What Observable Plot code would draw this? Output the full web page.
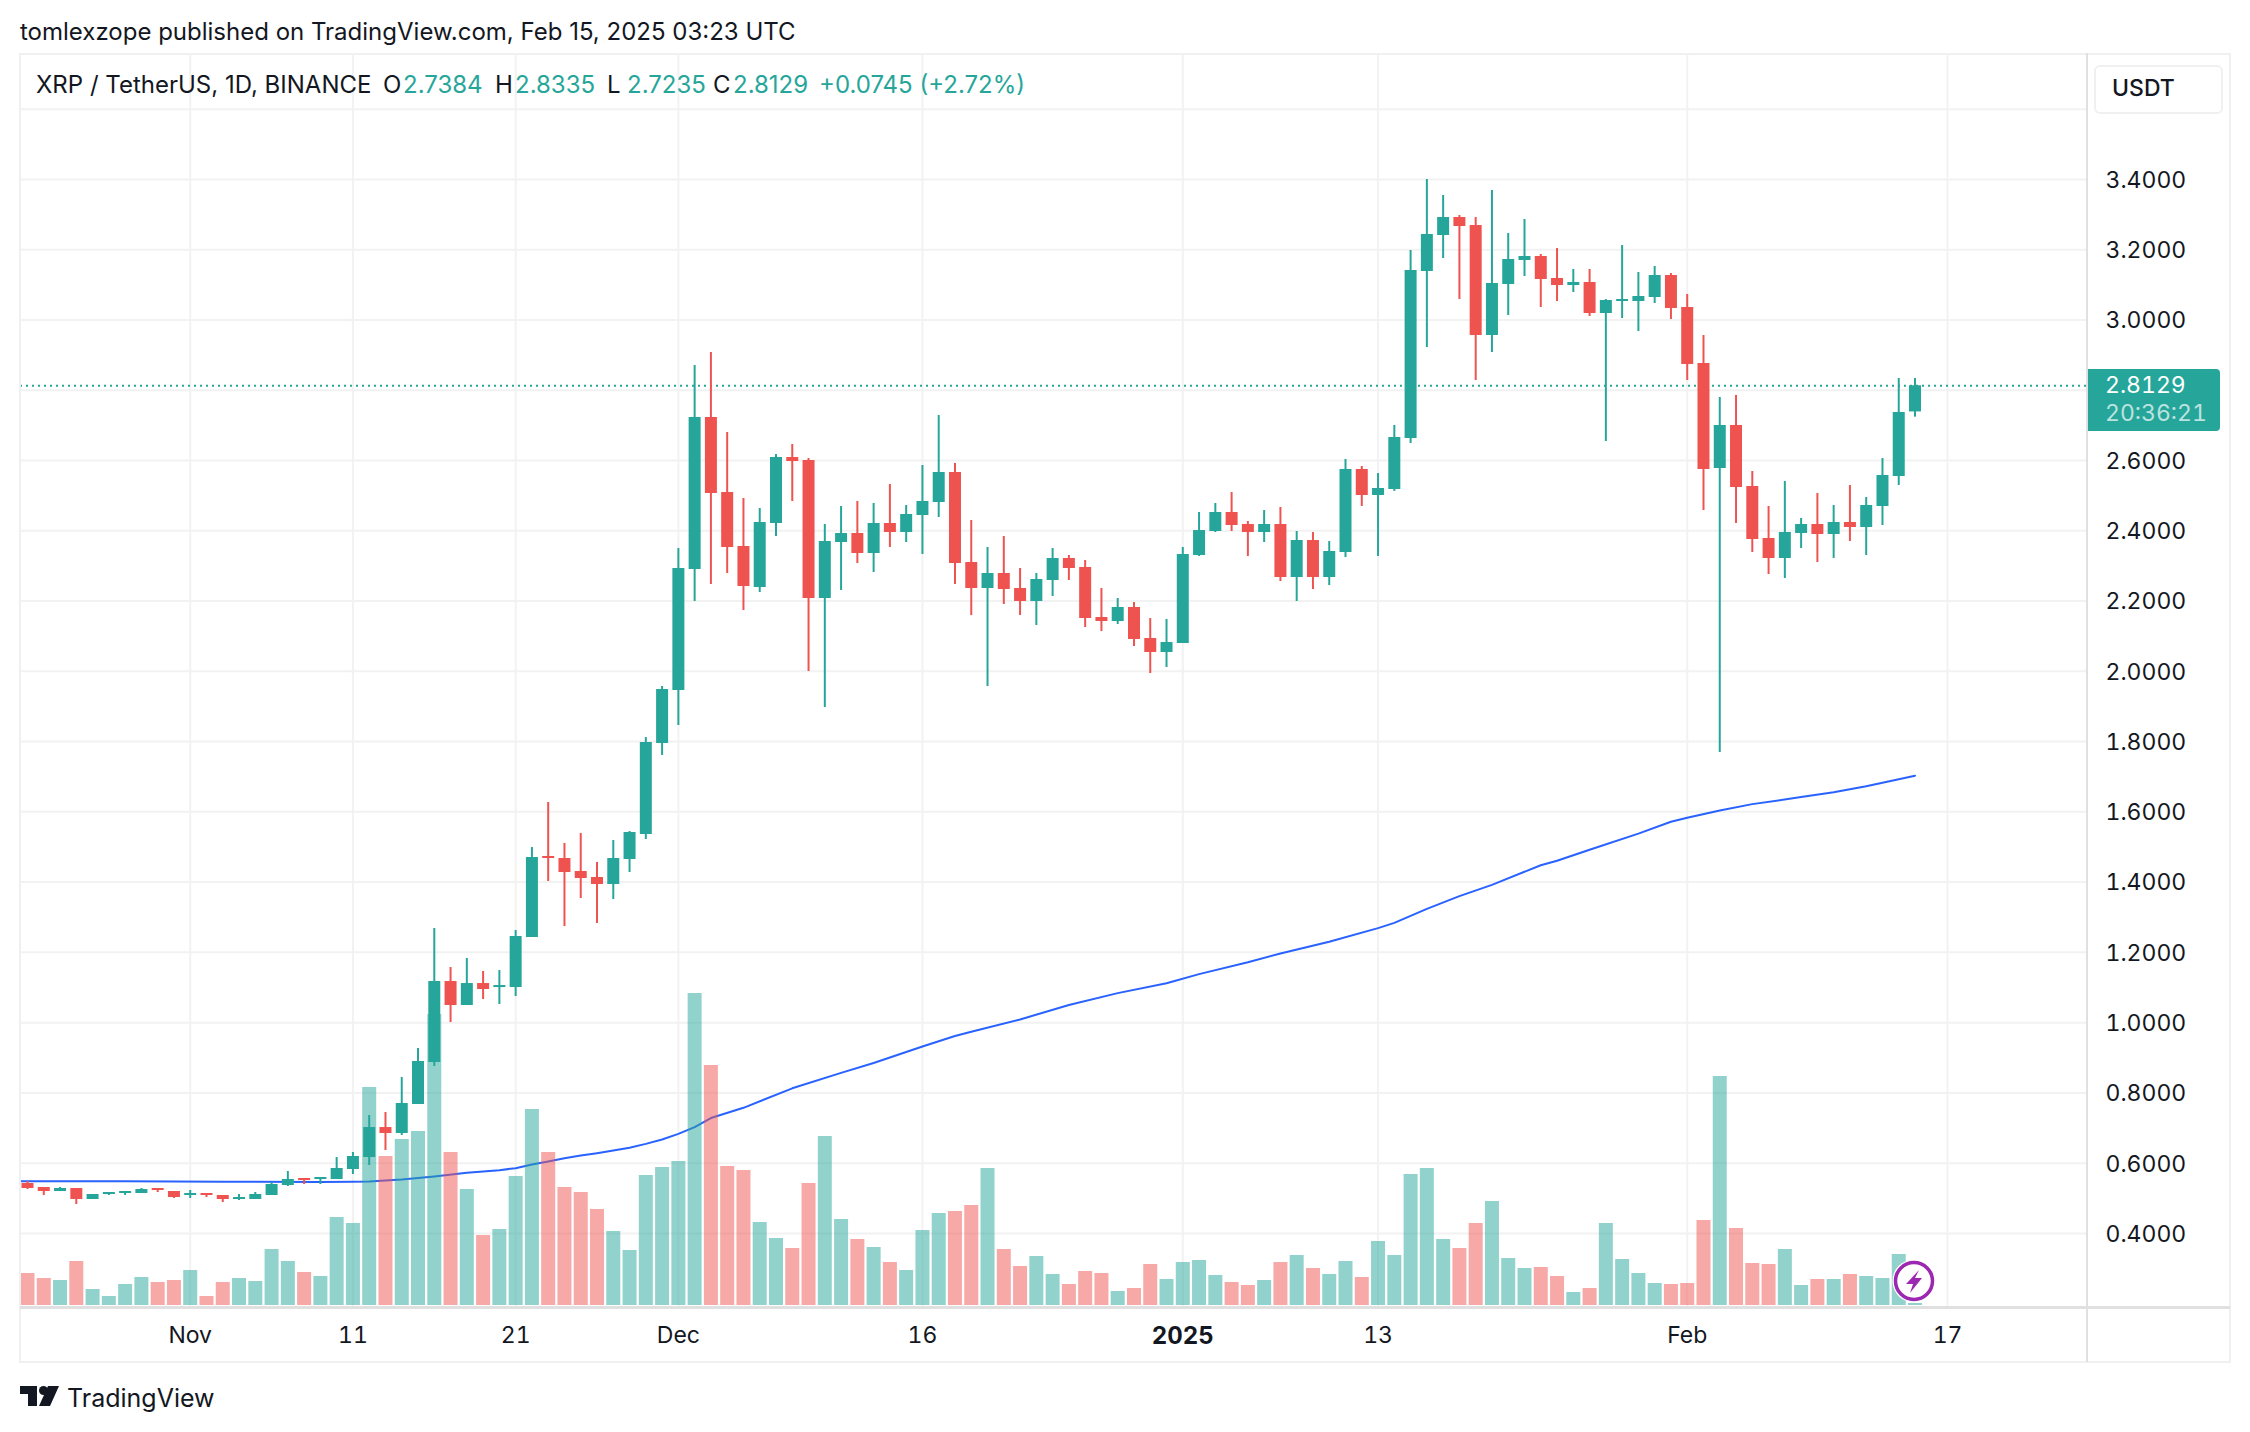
<!DOCTYPE html>
<html><head><meta charset="utf-8">
<script src="https://cdn.jsdelivr.net/npm/d3@7"></script>
<script src="https://cdn.jsdelivr.net/npm/@observablehq/plot@0.6"></script>
<style>
html,body{margin:0;padding:0;background:#fff}
#page{position:relative;width:2250px;height:1432px;overflow:hidden;font-family:Inter,"Noto Sans",sans-serif;color:#131722}
#page svg{position:absolute;left:0;top:0}
.t{position:absolute;white-space:pre;line-height:1}
.l{position:absolute;background:#f0f0f0}
.d{position:absolute;background:#e0e0e0}
</style></head><body><div id="page"></div>
<script>
// Daily XRP/USDT candles, 22 Oct 2024 onward
const open=[.542,.5307,.5193,.5278,.4965,.5107,.5136,.5136,.5278,.5193,.5079,.5136,.5079,.4965,.4965,.5079,.5363,.5563,.5534,.5534,.5819,.616,.7014,.6844,.7669,.8865,1.117,1.0487,1.1113,1.0999,1.0999,1.2423,1.4729,1.4672,1.4302,1.4131,1.3932,1.4643,1.5355,1.7945,1.9454,2.2899,2.7226,2.5091,2.3553,2.2386,2.4208,2.6087,2.6001,2.2073,2.3667,2.3923,2.3354,2.4208,2.3952,2.4436,2.4806,2.566,2.3098,2.2358,2.2785,2.2358,2.1988,2.2585,2.3212,2.2956,2.1532,2.1418,2.1817,2.0934,2.0536,2.0792,2.3297,2.398,2.4521,2.4179,2.3951,2.4179,2.2671,2.3724,2.2671,2.3382,2.5745,2.5005,2.5176,2.6628,3.1381,3.2406,3.2918,3.2691,2.956,3.1011,3.1694,3.1808,3.1182,3.0983,3.1068,3.0186,3.0527,3.0527,3.0641,3.1267,3.0357,2.8763,2.5774,2.6998,2.5261,2.3781,2.3212,2.3923,2.418,2.3895,2.4237,2.4094,2.4692,2.5546,2.7384];
const high=[.5477,.5307,.5307,.5278,.5107,.5164,.5193,.5278,.5278,.5193,.5221,.5136,.5079,.5107,.5164,.5449,.5762,.5563,.5591,.616,.6303,.7356,.7441,.8438,.9263,1.2679,1.1569,1.1825,1.1455,1.1483,1.2622,1.4985,1.6266,1.5099,1.5383,1.4558,1.5184,1.544,1.8116,1.9568,2.3496,2.8706,2.9076,2.6798,2.492,2.4635,2.6172,2.6457,2.6058,2.418,2.4692,2.4834,2.4778,2.5318,2.472,2.5859,2.7282,2.5916,2.4293,2.3525,2.3838,2.2927,2.2785,2.3496,2.3297,2.3155,2.2357,2.2073,2.1959,2.1503,2.1475,2.3525,2.4521,2.4777,2.509,2.4265,2.4578,2.4663,2.398,2.3951,2.3695,2.603,2.583,2.5631,2.7,3.1979,3.4,3.3545,3.2975,3.2918,3.3687,3.2463,3.2862,3.1865,3.2036,3.1438,3.1438,3.0584,3.2121,3.1353,3.1524,3.1324,3.0727,2.956,2.7795,2.7852,2.5688,2.4692,2.5404,2.435,2.5062,2.472,2.529,2.4948,2.6058,2.8336,2.8335];
const low=[.525,.5079,.5193,.4823,.4965,.5079,.5079,.5136,.5164,.4993,.4993,.5022,.4879,.4936,.4965,.5079,.5335,.5392,.5392,.5534,.5677,.5933,.636,.6787,.7669,.8751,1.0003,1.0487,1.0658,1.0516,1.0743,1.2423,1.4017,1.2736,1.3533,1.2821,1.3505,1.4273,1.5213,1.7604,1.8458,2.1988,2.2472,2.2785,2.1732,2.2244,2.3838,2.4834,1.9995,1.897,2.2301,2.307,2.2813,2.3525,2.3667,2.3326,2.4379,2.2472,2.1589,1.9568,2.1902,2.1589,2.1304,2.213,2.2585,2.1248,2.1133,2.1333,2.0707,1.9938,2.0109,2.0792,2.3268,2.3951,2.398,2.3268,2.3667,2.2557,2.1987,2.2329,2.2443,2.324,2.4692,2.3268,2.512,2.6485,2.9218,3.1751,3.0584,2.8278,2.9076,3.0129,3.1239,3.0357,3.0527,3.0783,3.01,2.6542,3.0043,2.9673,3.047,3.0015,2.8278,2.4578,1.769,2.4208,2.3383,2.2756,2.2642,2.3496,2.3098,2.3212,2.3696,2.3297,2.4151,2.529,2.7235];
const close=[.5278,.5193,.5278,.4965,.5107,.5164,.5193,.525,.5221,.5022,.5136,.5079,.4965,.5022,.5107,.5392,.5534,.5506,.5591,.5847,.6189,.7014,.6844,.7698,.8893,1.117,1.0487,1.1113,1.0943,1.1056,1.2451,1.47,1.4672,1.4273,1.4102,1.3932,1.4672,1.5412,1.7974,1.9483,2.2927,2.7226,2.5062,2.3525,2.2415,2.4237,2.6087,2.5973,2.2073,2.3696,2.3923,2.3354,2.4208,2.3952,2.4464,2.4834,2.566,2.307,2.2358,2.2785,2.2329,2.1988,2.2614,2.3212,2.2927,2.1504,2.1418,2.1817,2.0906,2.0536,2.082,2.3325,2.4008,2.4521,2.4151,2.3951,2.4179,2.2671,2.3724,2.2671,2.3411,2.5745,2.5005,2.5204,2.6656,3.141,3.2435,3.2918,3.2662,2.956,3.104,3.1723,3.1808,3.1154,3.0983,3.1068,3.0186,3.0556,3.0584,3.067,3.1267,3.0328,2.8734,2.5745,2.6998,2.5233,2.3753,2.3212,2.3952,2.418,2.3895,2.4237,2.4094,2.472,2.5575,2.7368,2.8129];
// Relative traded volume (no scale is printed on the chart)
const volume=[32,27,25,44,16,9,21,28,23,25,35,9,23,27,24,56,44,33,29,88,82,218,149,166,174,291,153,116,70,76,129,196,153,118,113,96,74,55,130,138,144,312,240,139,135,83,67,57,122,169,86,66,58,43,35,75,92,94,100,137,56,39,49,31,21,34,32,14,17,41,26,43,45,30,23,20,25,43,50,37,31,44,28,64,50,131,137,66,57,82,104,47,37,38,29,13,17,82,46,32,22,21,22,85,229,77,42,41,56,20,26,26,31,29,27,51,2];
// 200-period moving average read at selected days (day number from 22 Oct 2024)
const maDay=[-1,0,6,12,18,20,21,23,25,27,29,30,31,32,33,34,35,36,37,38,39,40,41,42,44,47,50,52,55,57,58,61,64,67,70,72,75,77,80,83,84,86,88,90,93,94,96,99,101,102,104,106,109,111,113,116];
const maVal=[.5487,.5487,.5482,.547,.5462,.5468,.5477,.5534,.562,.5724,.58,.5857,.5961,.6047,.6142,.6218,.6284,.636,.6436,.6549,.6673,.6834,.7024,.7285,.7575,.813,.857,.885,.932,.962,.974,1.009,1.05,1.084,1.112,1.138,1.172,1.197,1.23,1.269,1.284,1.324,1.36,1.392,1.448,1.461,1.492,1.538,1.572,1.583,1.604,1.622,1.642,1.656,1.673,1.703];
const priceTicks=[.4,.6,.8,1,1.2,1.4,1.6,1.8,2,2.2,2.4,2.6,3,3.2,3.4];
const gridOnly=[2.8,3.6];
const timeTicks=[["2024-11-01","Nov"],["2024-11-11","11"],["2024-11-21","21"],["2024-12-01","Dec"],["2024-12-16","16"],["2025-01-13","13"],["2025-02-01","Feb"],["2025-02-17","17"]];
const yearTick=[["2025-01-01","2025"]];
const lastPrice=2.8129;
const legend=[["O","2.7384"],["H","2.8335"],["L","2.7235"],["C","2.8129"]];

const UP="#26a69a",DOWN="#ef5350",DAY=864e5,START=Date.UTC(2024,9,22);
const dayDate=i=>new Date(START+i*DAY);
const rows=open.map((o,i)=>({date:dayDate(i),o,h:high[i],l:low[i],c:close[i],v:volume[i],col:close[i]>=o?UP:DOWN}));
const ma=maDay.map((d,i)=>({date:dayDate(d),v:maVal[i]}));
const ticks=timeTicks.map(d=>new Date(d[0]+"T00:00Z"));
const yearTicks=yearTick.map(d=>new Date(d[0]+"T00:00Z"));
const label=new Map([...timeTicks,...yearTick].map(d=>[+new Date(d[0]+"T00:00Z"),d[1]]));
// Volume overlay shares the pane: map volume onto the lower part of the price axis
const volBase=.1948, volUnit=1/351.3;
const volY=v=>volBase+v*volUnit;

const chart=Plot.plot({
  width:2250,height:1432,marginLeft:20,marginRight:163,marginTop:53,marginBottom:125,
  style:{fontFamily:"Inter, sans-serif",fontSize:"23px",color:"#131722",background:"transparent"},
  x:{type:"utc",domain:[dayDate(-.43),dayDate(126.6)]},
  y:{type:"linear",domain:[.1891,3.7587]},
  marks:[
    Plot.ruleY([...priceTicks,...gridOnly],{stroke:"#f2f2f3",strokeWidth:2}),
    Plot.ruleX([...ticks,...yearTicks],{stroke:"#f2f2f3",strokeWidth:2}),
    Plot.line(ma,{x:"date",y:"v",stroke:"#2962ff",strokeWidth:2,clip:true}),
    Plot.ruleX(rows,{x:"date",y1:volBase,y2:d=>volY(d.v),stroke:"col",strokeWidth:14,strokeOpacity:.5}),
    Plot.ruleY([lastPrice],{stroke:UP,strokeWidth:2,strokeDasharray:"2 4"}),
    Plot.ruleX(rows,{x:"date",y1:"l",y2:"h",stroke:"col",strokeWidth:2}),
    Plot.ruleX(rows,{x:"date",y1:"o",y2:"c",stroke:"col",strokeWidth:12}),
    Plot.axisY(priceTicks,{anchor:"right",tickSize:0,tickPadding:18,dy:1,tickFormat:d3.format(".4f"),label:null,fill:"#131722",textAnchor:"start"}),
    Plot.axisX(ticks,{anchor:"bottom",tickSize:0,tickPadding:19,tickFormat:d=>label.get(+d),label:null,fill:"#131722"}),
    Plot.axisX(yearTicks,{anchor:"bottom",tickSize:0,tickPadding:19,tickFormat:d=>label.get(+d),label:null,fill:"#131722",fontWeight:"bold",fontSize:24})
  ]
});
const page=document.getElementById("page");
page.appendChild(chart);

function box(cls,l,t,w,h){const e=document.createElement("div");e.className=cls;Object.assign(e.style,{left:l+"px",top:t+"px",width:w+"px",height:h+"px"});page.appendChild(e);return e;}
function text(s,l,cy,size,extra){const e=document.createElement("div");e.className="t";e.textContent=s;Object.assign(e.style,{left:l+"px",top:(cy-size/2)+"px",fontSize:size+"px"},extra||{});page.appendChild(e);return e;}
box("l",19,53,2,1309);box("l",2229,53,2,1309);box("l",19,53,2212,2);box("l",19,1361,2212,2);
box("d",20,1306,2210,2.5);box("d",2086,53,2,1309);

const usd=box("x",2094,65,125,45);Object.assign(usd.style,{position:"absolute",border:"2px solid #f0f0f0",borderRadius:"6px"});
text("USDT",2112,88,23,{fontWeight:"500"});

text("tomlexzope published on TradingView.com, Feb 15, 2025 03:23 UTC",20,32,24);
text("XRP / TetherUS, 1D, BINANCE",36,85,24);
const lx=[383,495,607,713],vx=[403,515,627,733];
legend.forEach((d,i)=>{text(d[0],lx[i],85,24);text(d[1],vx[i],85,24,{color:UP});});
text("+0.0745 (+2.72%)",819,85,24,{color:UP});

const tag=box("x",2088,369,132,62);Object.assign(tag.style,{position:"absolute",background:UP,borderRadius:"0 4px 4px 0"});
text("2.8129",2105,385,23,{color:"#fff",fontVariantNumeric:"tabular-nums"});
text("20:36:21",2105,413,23,{color:"rgba(255,255,255,.7)",fontVariantNumeric:"tabular-nums"});

// Footer logo and the event badge
const ns="http://www.w3.org/2000/svg";
const deco=document.createElementNS(ns,"svg");
deco.setAttribute("width",2250);deco.setAttribute("height",1432);
deco.innerHTML=`<path d="M20 1386H37V1406H28V1394H20Z" fill="#131722"/><circle cx="43.5" cy="1390.5" r="4.5" fill="#131722"/><path d="M48 1386H59L50 1406H39Z" fill="#131722"/>
<circle cx="1914" cy="1281" r="21.5" fill="#fff"/><circle cx="1914" cy="1281" r="18.5" fill="#fff" stroke="#9c27b0" stroke-width="3.5"/>
<path d="M1919 1270L1906 1284H1913L1910 1293L1922 1278H1915Z" fill="#9c27b0"/>`;
page.appendChild(deco);
text("TradingView",67,1398,25,{fontWeight:"400"});
</script></body></html>
